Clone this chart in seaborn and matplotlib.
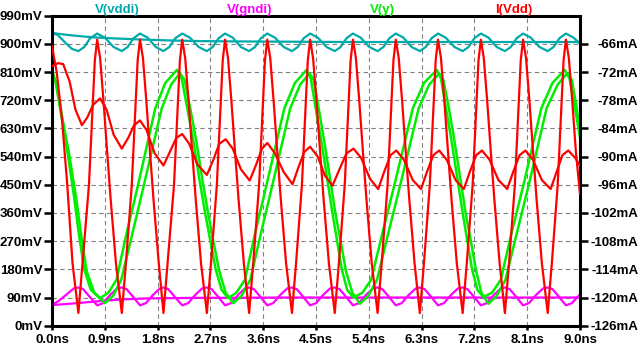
"""LTspice style transient plot: V(vddi), V(gndi), V(y), I(Vdd)."""

import matplotlib

matplotlib.use("Agg")
import matplotlib.pyplot as plt
import seaborn as sns

# ── data (time in ns, voltages in mV, current in mA) ─────────────────────────
VDDI_FLAT = [(0.0, 935), (0.2, 930), (0.4, 926), (0.7, 921), (1.0, 918), (1.5, 914),
             (2.0, 911), (2.5, 909), (3.0, 908), (4.0, 907), (5.0, 906), (9.0, 906)]

VDDI_OSC = [(0.00, 935), (0.10, 928), (0.22, 905), (0.34, 884), (0.45, 877), (0.55, 890),
            (0.65, 918), (0.77, 933), (0.90, 920), (1.05, 890), (1.19, 877), (1.29, 890),
            (1.39, 918), (1.50, 933), (1.63, 920), (1.77, 890), (1.90, 877), (2.00, 890),
            (2.10, 918), (2.22, 933), (2.35, 920), (2.50, 890), (2.64, 877), (2.74, 890),
            (2.84, 918), (2.95, 933), (3.08, 920), (3.22, 890), (3.36, 877), (3.46, 890),
            (3.56, 918), (3.67, 933), (3.80, 920), (3.95, 890), (4.09, 877), (4.19, 890),
            (4.29, 918), (4.40, 933), (4.53, 920), (4.68, 890), (4.82, 877), (4.92, 890),
            (5.02, 918), (5.13, 933), (5.26, 920), (5.41, 890), (5.55, 877), (5.65, 890),
            (5.75, 918), (5.86, 933), (5.99, 920), (6.13, 890), (6.27, 877), (6.37, 890),
            (6.47, 918), (6.58, 933), (6.71, 920), (6.86, 890), (7.00, 877), (7.10, 890),
            (7.20, 918), (7.31, 933), (7.44, 920), (7.58, 890), (7.72, 877), (7.82, 890),
            (7.92, 918), (8.03, 933), (8.16, 920), (8.31, 890), (8.45, 877), (8.55, 890),
            (8.65, 918), (8.76, 933), (8.89, 920), (9.00, 900)]

GNDI_FLAT = [(0.0, 66), (0.3, 70), (0.6, 75), (0.9, 80), (1.2, 84), (1.6, 87),
             (2.0, 88), (2.5, 89), (3.0, 89), (4.0, 90), (9.0, 90)]

GNDI_OSC = [(0.00, 66), (0.12, 80), (0.25, 100), (0.37, 119), (0.45, 122), (0.53, 117),
            (0.63, 95), (0.77, 65), (0.87, 72), (0.99, 98), (1.11, 119), (1.19, 122),
            (1.27, 117), (1.37, 95), (1.50, 65), (1.60, 72), (1.72, 98), (1.84, 119),
            (1.90, 122), (1.98, 117), (2.08, 95), (2.22, 65), (2.32, 72), (2.44, 98),
            (2.56, 119), (2.64, 122), (2.72, 117), (2.82, 95), (2.95, 65), (3.05, 72),
            (3.17, 98), (3.29, 119), (3.36, 122), (3.44, 117), (3.54, 95), (3.67, 65),
            (3.77, 72), (3.89, 98), (4.01, 119), (4.09, 122), (4.17, 117), (4.27, 95),
            (4.40, 65), (4.50, 72), (4.62, 98), (4.74, 119), (4.82, 122), (4.90, 117),
            (5.00, 95), (5.13, 65), (5.23, 72), (5.35, 98), (5.47, 119), (5.55, 122),
            (5.63, 117), (5.73, 95), (5.86, 65), (5.96, 72), (6.08, 98), (6.20, 119),
            (6.27, 122), (6.35, 117), (6.45, 95), (6.58, 65), (6.68, 72), (6.80, 98),
            (6.92, 119), (7.00, 122), (7.08, 117), (7.18, 95), (7.31, 65), (7.41, 72),
            (7.53, 98), (7.65, 119), (7.72, 122), (7.80, 117), (7.90, 95), (8.03, 65),
            (8.13, 72), (8.25, 98), (8.37, 119), (8.45, 122), (8.53, 117), (8.63, 95),
            (8.76, 65), (8.86, 72), (9.00, 100)]

VY_A = [(0.00, 817), (0.06, 780), (0.15, 680), (0.26, 560), (0.37, 420), (0.46, 290),
        (0.55, 180), (0.66, 115), (0.82, 88),
        (0.96, 105), (1.10, 147), (1.26, 286), (1.48, 460), (1.76, 694), (1.93, 775), (2.13, 817),
        (2.21, 790), (2.30, 700), (2.41, 590), (2.51, 470), (2.61, 360), (2.70, 270),
        (2.79, 180), (2.89, 115), (3.00, 88),
        (3.14, 105), (3.29, 147), (3.45, 286), (3.67, 460), (3.96, 694), (4.14, 775), (4.34, 817),
        (4.41, 790), (4.49, 700), (4.59, 590), (4.69, 470), (4.78, 360), (4.86, 270),
        (4.94, 180), (5.03, 115), (5.14, 90),
        (5.29, 105), (5.44, 147), (5.62, 286), (5.85, 460), (6.15, 694), (6.34, 775), (6.56, 817),
        (6.63, 790), (6.71, 700), (6.81, 590), (6.91, 470), (7.00, 360), (7.08, 270),
        (7.16, 180), (7.25, 115), (7.35, 92),
        (7.50, 105), (7.65, 147), (7.82, 286), (8.05, 460), (8.34, 694), (8.53, 775), (8.74, 817),
        (8.82, 790), (8.91, 700), (9.00, 600)]

VY_B = [(0.00, 810), (0.07, 775), (0.17, 670), (0.29, 550), (0.41, 410), (0.50, 285),
        (0.59, 175), (0.72, 105), (0.90, 72),
        (1.04, 95), (1.18, 147), (1.36, 286), (1.58, 460), (1.87, 694), (2.03, 770), (2.18, 806),
        (2.26, 785), (2.35, 700), (2.46, 590), (2.56, 470), (2.66, 360), (2.75, 270),
        (2.85, 175), (2.96, 105), (3.09, 72),
        (3.23, 95), (3.38, 147), (3.55, 286), (3.77, 460), (4.06, 694), (4.23, 770), (4.39, 806),
        (4.46, 785), (4.54, 700), (4.64, 590), (4.74, 470), (4.83, 360), (4.92, 270),
        (5.01, 175), (5.12, 105), (5.25, 70),
        (5.39, 95), (5.54, 147), (5.72, 286), (5.95, 460), (6.25, 694), (6.43, 770), (6.60, 806),
        (6.67, 785), (6.76, 700), (6.86, 590), (6.96, 470), (7.05, 360), (7.14, 270),
        (7.23, 175), (7.32, 105), (7.44, 70),
        (7.58, 95), (7.73, 147), (7.91, 286), (8.14, 460), (8.43, 694), (8.62, 770), (8.78, 806),
        (8.86, 785), (8.94, 700), (9.00, 620)]

IDD_MAIN = [(0.00, -66.5), (0.08, -72.0), (0.17, -82.0), (0.26, -96.0), (0.35, -112.7),
            (0.45, -123.3), (0.52, -112.7),
            (0.63, -96.0), (0.69, -80.0), (0.73, -69.5), (0.77, -65.1), (0.82, -69.0),
            (0.88, -78.5), (0.94, -89.0), (1.00, -99.1), (1.09, -112.7), (1.19, -123.3), (1.26, -112.7),
            (1.36, -96.0), (1.42, -80.0), (1.46, -69.5), (1.50, -65.1), (1.55, -69.0),
            (1.61, -78.5), (1.67, -89.0), (1.73, -99.1), (1.82, -112.7), (1.90, -123.3), (1.97, -112.7),
            (2.08, -96.0), (2.14, -80.0), (2.18, -69.5), (2.22, -65.1), (2.27, -69.0),
            (2.33, -78.5), (2.39, -89.0), (2.45, -99.1), (2.54, -112.7), (2.64, -123.3), (2.71, -112.7),
            (2.81, -96.0), (2.87, -80.0), (2.91, -69.5), (2.95, -65.1), (3.00, -69.0),
            (3.06, -78.5), (3.12, -89.0), (3.18, -99.1), (3.27, -112.7), (3.36, -123.3), (3.43, -112.7),
            (3.53, -96.0), (3.59, -80.0), (3.63, -69.5), (3.67, -65.1), (3.72, -69.0),
            (3.78, -78.5), (3.84, -89.0), (3.90, -99.1), (3.99, -112.7), (4.09, -123.3), (4.16, -112.7),
            (4.26, -96.0), (4.32, -80.0), (4.36, -69.5), (4.40, -65.1), (4.45, -69.0),
            (4.51, -78.5), (4.57, -89.0), (4.63, -99.1), (4.72, -112.7), (4.82, -123.3), (4.89, -112.7),
            (4.99, -96.0), (5.05, -80.0), (5.09, -69.5), (5.13, -65.1), (5.18, -69.0),
            (5.24, -78.5), (5.30, -89.0), (5.36, -99.1), (5.45, -112.7), (5.55, -123.3), (5.62, -112.7),
            (5.72, -96.0), (5.78, -80.0), (5.82, -69.5), (5.86, -65.1), (5.91, -69.0),
            (5.97, -78.5), (6.03, -89.0), (6.09, -99.1), (6.18, -112.7), (6.27, -123.3), (6.34, -112.7),
            (6.44, -96.0), (6.50, -80.0), (6.54, -69.5), (6.58, -65.1), (6.63, -69.0),
            (6.69, -78.5), (6.75, -89.0), (6.81, -99.1), (6.90, -112.7), (7.00, -123.3), (7.07, -112.7),
            (7.17, -96.0), (7.23, -80.0), (7.27, -69.5), (7.31, -65.1), (7.36, -69.0),
            (7.42, -78.5), (7.48, -89.0), (7.54, -99.1), (7.63, -112.7), (7.72, -123.3), (7.79, -112.7),
            (7.89, -96.0), (7.95, -80.0), (7.99, -69.5), (8.03, -65.1), (8.08, -69.0),
            (8.14, -78.5), (8.20, -89.0), (8.26, -99.1), (8.35, -112.7), (8.45, -123.3), (8.52, -112.7),
            (8.62, -96.0), (8.68, -80.0), (8.72, -69.5), (8.76, -65.1), (8.81, -69.0),
            (8.87, -78.5), (8.93, -89.0), (9.00, -98.0)]

IDD_DAMPED = [(0.00, -70.8), (0.10, -70.1), (0.19, -70.3), (0.30, -74.0), (0.40, -80.0),
              (0.51, -83.3), (0.60, -81.7), (0.70, -79.0), (0.82, -77.6), (0.93, -80.0),
              (1.05, -85.3), (1.19, -88.3), (1.30, -86.0), (1.40, -83.3), (1.50, -82.3),
              (1.61, -84.3), (1.75, -89.3), (1.90, -91.9), (2.02, -88.7), (2.12, -86.0),
              (2.22, -85.2), (2.34, -87.3), (2.48, -91.7), (2.64, -93.9), (2.75, -90.7),
              (2.85, -87.3), (2.96, -86.3), (3.08, -88.3), (3.22, -92.7), (3.37, -95.1),
              (3.48, -91.7), (3.58, -88.3), (3.67, -87.1), (3.80, -89.3), (3.95, -93.3),
              (4.10, -95.9), (4.20, -92.3), (4.30, -89.0), (4.40, -87.9), (4.53, -90.0),
              (4.65, -94.0), (4.78, -96.2), (4.90, -92.7), (5.02, -89.3), (5.14, -88.3),
              (5.27, -90.3), (5.42, -94.7), (5.56, -96.9), (5.66, -93.3), (5.77, -89.7),
              (5.87, -88.7), (6.00, -90.7), (6.15, -95.0), (6.29, -96.9), (6.39, -93.3),
              (6.50, -89.7), (6.60, -88.7), (6.73, -90.7), (6.88, -95.0), (7.02, -96.9),
              (7.12, -93.3), (7.23, -89.7), (7.33, -88.7), (7.46, -90.7), (7.61, -95.0),
              (7.76, -96.9), (7.86, -93.3), (7.97, -89.7), (8.07, -88.7), (8.20, -90.7),
              (8.35, -95.0), (8.50, -96.9), (8.60, -93.3), (8.70, -89.7), (8.80, -88.7),
              (8.92, -90.3), (9.00, -92.0)]

TIME_TICKS = [0.0, 0.9, 1.8, 2.7, 3.6, 4.5, 5.4, 6.3, 7.2, 8.1, 9.0]
MV_TICKS = [0, 90, 180, 270, 360, 450, 540, 630, 720, 810, 900, 990]
MA_TICKS = [-126, -120, -114, -108, -102, -96, -90, -84, -78, -72, -66]

TRACES = [
    ("V(vddi)", "#00aaaa"),
    ("V(gndi)", "#ff00ff"),
    ("V(y)", "#00ee00"),
    ("I(Vdd)", "#ff0000"),
]
TITLE_X = [117, 250, 382, 514]  # label centres in pixels


def draw(ax, points, color, lw=1.6):
    t, v = zip(*points)
    sns.lineplot(x=list(t), y=list(v), ax=ax, color=color, linewidth=lw,
                 estimator=None, sort=False, legend=False)


def main() -> None:
    sns.set_theme(style="white")
    plt.rcParams["font.family"] = ["Liberation Sans", "DejaVu Sans"]
    plt.rcParams["font.weight"] = "bold"

    fig = plt.figure(figsize=(6.4, 3.52), dpi=100, facecolor="white")
    ax = fig.add_axes([52 / 640, 1 - 325.7 / 352, 528 / 640, 310 / 352])
    ax2 = ax.twinx()

    cyan, magenta, green, red = (c for _, c in TRACES)
    draw(ax, VDDI_FLAT, cyan)
    draw(ax, VDDI_OSC, cyan)
    draw(ax, GNDI_FLAT, magenta)
    draw(ax, GNDI_OSC, magenta)
    draw(ax, VY_A, green, 1.8)
    draw(ax, VY_B, green, 1.8)
    draw(ax2, IDD_DAMPED, red)
    draw(ax2, IDD_MAIN, red)

    ax.set_xlim(0, 9)
    ax.set_ylim(0, 990)
    ax2.set_ylim(-126, -60)

    ax.set_xticks(TIME_TICKS)
    ax.set_xticklabels([f"{t:.1f}ns" for t in TIME_TICKS])
    ax.set_yticks(MV_TICKS)
    ax.set_yticklabels([f"{v}mV" for v in MV_TICKS])
    ax2.set_yticks(MA_TICKS)
    ax2.set_yticklabels([f"{v}mA" for v in MA_TICKS])
    ax.set_xlabel("")
    ax.set_ylabel("")
    ax2.set_ylabel("")

    ax.grid(True, color="#808080", linestyle=(0, (4, 3)), linewidth=0.8)
    ax.set_axisbelow(True)
    for side in ["left", "right", "top", "bottom"]:
        ax.spines[side].set_visible(True)
        ax.spines[side].set_color("black")
        ax.spines[side].set_linewidth(2.2)
        ax2.spines[side].set_visible(False)

    ax.tick_params(axis="y", direction="out", length=6, width=1.8, pad=1,
                   labelsize=9.5, colors="black", left=True)
    ax.tick_params(axis="x", direction="out", length=3, width=1.8, pad=3,
                   labelsize=9.5, colors="black", bottom=True)
    ax2.tick_params(axis="y", direction="out", length=6, width=1.8, pad=36,
                    labelsize=9.5, colors="black", right=True)
    for lbl in ax2.get_yticklabels():
        lbl.set_horizontalalignment("right")
    for lbl in ax.get_xticklabels() + ax.get_yticklabels() + ax2.get_yticklabels():
        lbl.set_fontweight("bold")

    for (name, color), px in zip(TRACES, TITLE_X):
        fig.text(px / 640, 1 - 9.5 / 352, name, color=color, ha="center", va="center",
                 fontsize=9.5, fontweight="bold")

    fig.savefig("out.png", dpi=100, facecolor="white")
    plt.close(fig)


if __name__ == "__main__":
    main()
